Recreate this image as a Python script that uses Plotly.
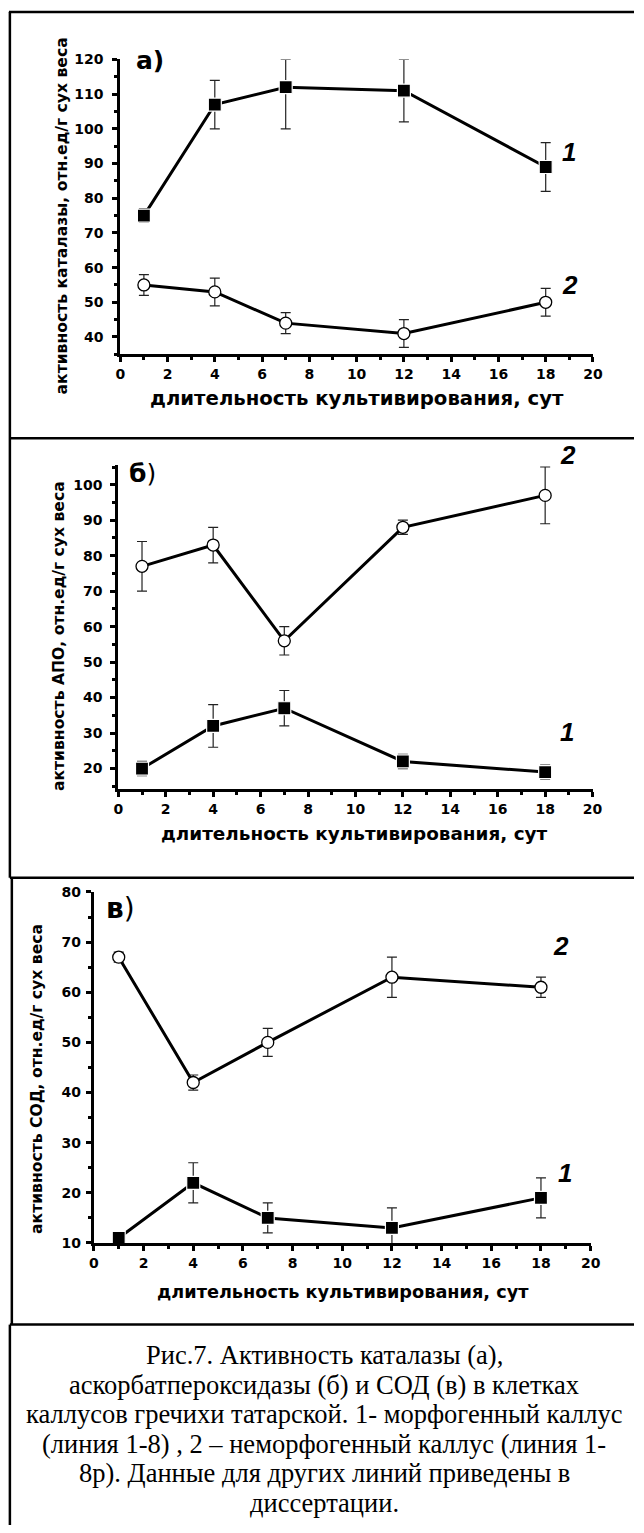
import plotly.graph_objects as go

# ---- data: sampling days and enzyme activities (rel. units / g dry weight) ----
days = [1, 4, 7, 12, 18]

# catalase
cat_morph = [75, 107, 112, 111, 89]
cat_morph_err_up = [2, 7, 8, 9, 7]
cat_morph_err_dn = [2, 7, 12, 9, 7]
cat_nonmorph = [55, 53, 44, 41, 50]
cat_nonmorph_err = [3, 4, 3, 4, 4]

# ascorbate peroxidase
apo_morph = [20, 32, 37, 22, 19]
apo_morph_err = [2, 6, 5, 2, 2]
apo_nonmorph = [77, 83, 56, 88, 97]
apo_nonmorph_err = [7, 5, 4, 2, 8]

# superoxide dismutase
sod_morph = [11, 22, 15, 13, 19]
sod_morph_err = [1, 4, 3, 4, 4]
sod_nonmorph = [67, 42, 50, 63, 61]
sod_nonmorph_err = [1, 1.5, 2.8, 4, 2]

x_ticks = [0, 2, 4, 6, 8, 10, 12, 14, 16, 18, 20]

x_title = "длительность культивирования, сут"
y_titles = [
    "активность каталазы, отн.ед/г сух веса",
    "активность АПО, отн.ед/г сух веса",
    "активность СОД, отн.ед/г сух веса",
]
caption_lines = [
    "Рис.7. Активность каталазы (а),",
    "аскорбатпероксидазы (б) и СОД (в) в клетках",
    "каллусов гречихи татарской. 1- морфогенный каллус",
    "(линия 1-8) , 2 – неморфогенный каллус (линия 1-",
    "8р). Данные для других линий приведены в",
    "диссертации.",
]

W, H = 644, 1533


def fx(p):
    return p / W


def fy(p):
    return 1 - p / H


SANS = "DejaVu Sans"
tick_font = dict(family=SANS, size=14, color="black", weight="bold")

fig = go.Figure()

# panel geometry in page pixels: x-left, x-right, y-top, y-bottom, y-range,
# extra gap between y tick labels and the axis
panels = [
    dict(xl=118, xr=602, yt=52, yb=350, yr=[35, 120], ygap=6),
    dict(xl=116, xr=601.6, yt=461.7, yb=789, yr=[14.3, 105.6], ygap=5),
    dict(xl=91, xr=599.6, yt=893.3, yb=1248, yr=[10, 80], ygap=2),
]

series = [
    (cat_morph, dict(type="data", array=cat_morph_err_up, arrayminus=cat_morph_err_dn, symmetric=False),
     cat_nonmorph, dict(type="data", array=cat_nonmorph_err)),
    (apo_morph, dict(type="data", array=apo_morph_err),
     apo_nonmorph, dict(type="data", array=apo_nonmorph_err)),
    (sod_morph, dict(type="data", array=sod_morph_err),
     sod_nonmorph, dict(type="data", array=sod_nonmorph_err)),
]

err_style = dict(color="#222222", thickness=1.2, width=5)

for i, (p, (m_y, m_err, n_y, n_err)) in enumerate(zip(panels, series)):
    sfx = "" if i == 0 else str(i + 1)
    xa, ya = "x" + sfx, "y" + sfx
    fig.add_trace(go.Scatter(
        x=days, y=m_y, xaxis=xa, yaxis=ya, mode="lines+markers",
        line=dict(color="black", width=3),
        marker=dict(symbol="square", size=13, color="black",
                    line=dict(color="white", width=1.2)),
        error_y=dict(**m_err, **err_style), cliponaxis=False, showlegend=False))
    fig.add_trace(go.Scatter(
        x=days, y=n_y, xaxis=xa, yaxis=ya, mode="lines+markers",
        line=dict(color="black", width=3),
        marker=dict(symbol="circle", size=12, color="white",
                    line=dict(color="black", width=1.3)),
        error_y=dict(**n_err, **err_style), cliponaxis=False, showlegend=False))

    common = dict(showline=True, linewidth=3, linecolor="black", showgrid=False,
                  zeroline=False, ticks="outside", ticklen=5, tickwidth=2.5,
                  tickcolor="black", tickfont=tick_font)
    fig.layout["xaxis" + sfx] = dict(
        domain=[fx(p["xl"]), fx(p["xr"])], range=[0, 20], anchor=ya,
        tickmode="array", tickvals=x_ticks,
        minor=dict(dtick=1, tick0=0, ticks="outside", ticklen=3, tickwidth=2.5,
                   tickcolor="black"),
        **common)
    fig.layout["yaxis" + sfx] = dict(
        domain=[fy(p["yb"]), fy(p["yt"])], range=p["yr"], anchor=xa,
        tickmode="linear", tick0=0, dtick=10, ticklabelstandoff=p["ygap"],
        minor=dict(dtick=5, tick0=0, ticks="outside", ticklen=3, tickwidth=2.5,
                   tickcolor="black"),
        **common)

annotations = []


def note(text, x, y, size, family=SANS, weight="bold", style="normal",
         angle=0, xanchor="center", yanchor="middle"):
    annotations.append(dict(
        text=text, x=fx(x), y=fy(y), xref="paper", yref="paper",
        showarrow=False, textangle=angle, xanchor=xanchor, yanchor=yanchor,
        font=dict(family=family, size=size, color="black", weight=weight, style=style)))


# axis titles
note(x_title, 360, 395, 19.7)
note(x_title, 358, 834, 18.4)
note(x_title, 346, 1298, 17.7)
note(y_titles[0], 58, 210, 15.6, angle=-90)
note(y_titles[1], 56, 635, 15.6, angle=-90)
note(y_titles[2], 32, 1082, 15.6, angle=-90)

# panel letters
note("а)", 148, 53, 25)
note("<b>б</b>)", 141, 470, 25, weight="normal")
note("<b>в</b>)", 118, 910, 28, weight="normal")

# curve numbers
num = "Liberation Sans"
note("1", 577, 146, 26, family=num, style="italic")
note("2", 578, 280, 26, family=num, style="italic")
note("2", 576, 452, 26, family=num, style="italic")
note("1", 575, 732, 26, family=num, style="italic")
note("2", 569, 948, 26, family=num, style="italic")
note("1", 573, 1177, 26, family=num, style="italic")

# caption
for k, line in enumerate(caption_lines):
    note(line, 327, 1361.5 + 29.8 * k, 26.5, family="Liberation Serif", weight="normal")

# frame lines around the panels and the caption
frame = [
    (4, 4, 644, 4),
    (5, 4, 5, 879),
    (5, 434.7, 644, 434.7),
    (5, 879, 644, 879),
    (7, 879, 7, 1330.5),
    (5, 1330.5, 644, 1330.5),
    (5, 1330.5, 5, 1533),
]
shapes = [dict(type="line", xref="paper", yref="paper",
               x0=fx(a), y0=fy(b), x1=fx(c), y1=fy(d),
               line=dict(color="black", width=2.5)) for a, b, c, d in frame]

fig.update_layout(
    width=W, height=H, margin=dict(l=0, r=0, t=0, b=0),
    paper_bgcolor="white", plot_bgcolor="white",
    annotations=annotations, shapes=shapes, showlegend=False)

fig.write_html("out.html")
